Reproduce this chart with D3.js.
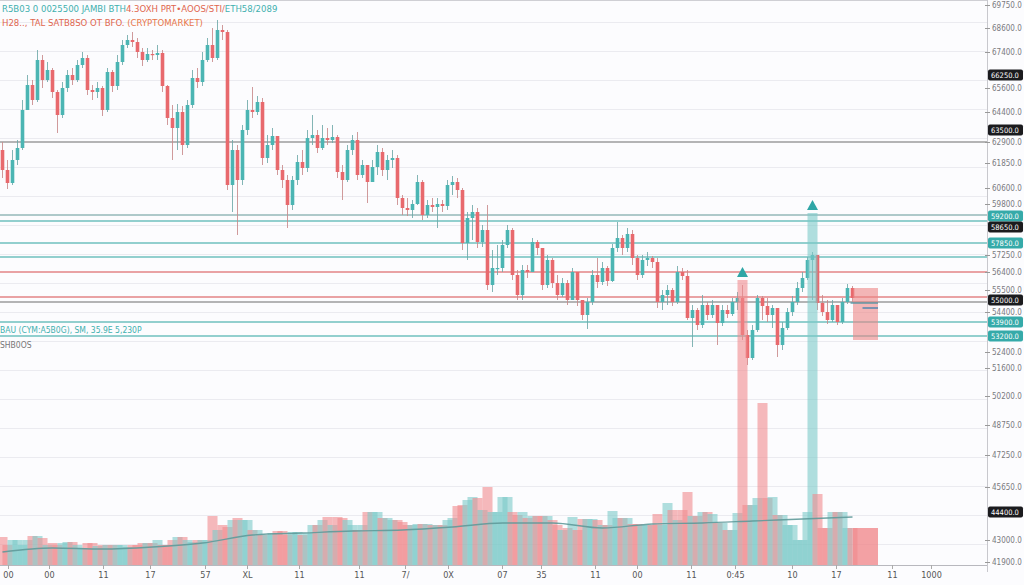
<!DOCTYPE html>
<html><head><meta charset="utf-8">
<script src="https://cdn.jsdelivr.net/npm/d3@7"></script>
<style>
html,body{margin:0;padding:0;background:#fcfcfe;}
svg{display:block;}
text{font-family:"DejaVu Sans Condensed","Liberation Sans Narrow","Roboto",sans-serif;}
</style></head><body>
<svg id="c" width="1024" height="585"></svg>
<script>
// ---------- DATA ----------
const firstOpen = 62500;
const closes = [
61500,60850,62000,62600,64500,65750,65000,67000,66000,66500,
65400,64250,65600,66250,66000,66750,67100,65500,65400,65600,
64500,66400,65700,66900,67750,68000,67900,67400,67000,67300,
67250,67350,65700,64100,63600,64400,62750,64750,66100,65900,
67000,67750,67100,68500,68400,60750,62500,61000,63500,64500,
64400,64900,62100,62750,63200,61500,61000,59750,61000,61900,
61600,63100,63250,62600,63100,63000,63150,61400,61000,62500,
63000,61250,61750,60900,61650,62400,61500,62000,62100,60100,
59600,59500,59800,60900,59250,59750,59650,59800,59700,60750,
60900,60500,57850,59100,59400,57900,58500,55750,56600,56600,
57750,58500,56250,55250,56500,56400,57900,57600,55750,57000,
55850,55250,55850,55000,56400,55000,54250,54900,56250,55900,
56600,55950,57600,58100,57600,58300,57100,56250,57000,57100,
56900,54900,55250,55500,54900,56400,56200,54100,54500,53750,
54750,54250,54750,53850,54500,54300,54900,55100,53250,52100,
53500,55100,54700,54250,54600,52750,53600,54400,54900,55600,
56100,57000,57250,54850,54400,54000,54750,53900,54900,55600,
55100];
const highs = [
62900,62000,62500,63000,65000,66250,66000,67500,67250,66900,
66600,65500,65900,66500,66600,67000,67400,67250,65750,65900,
65700,66600,66500,67250,68000,68250,68400,68100,67600,67600,
67500,67750,67500,65750,64750,64800,64700,65000,66500,66600,
67400,68100,68600,69000,68750,68500,63000,62750,63750,65000,
65650,65200,65100,63250,63600,63100,61750,61250,61200,62250,
62500,63500,64250,63500,63750,63600,63750,63250,61750,62750,
63250,63400,62000,61750,62000,62750,62600,62250,62500,62250,
60250,60100,60000,61250,61000,60000,60100,60100,60000,61000,
61200,61100,60600,59400,59750,59600,58750,59750,57500,57750,
58000,58750,58600,56500,56750,56750,58100,58000,57500,57250,
57100,56250,56100,56000,56600,55850,55000,55100,56500,57100,
56900,56700,57800,58900,58250,58600,58500,57250,57250,57400,
57200,57100,55500,55750,55600,56700,56600,56500,54750,54600,
55250,54900,55000,54750,54750,54750,55100,55400,55750,53500,
53750,55250,55200,55100,54750,54500,53900,54600,55200,55900,
56400,57150,57400,55500,55250,55000,55000,54600,55100,55800,
55700];
const lows = [
61100,60550,60750,61750,62500,64500,64750,64900,65600,65900,
65100,63350,64100,65400,65750,65900,66600,65250,65000,65100,
64200,64400,65400,65500,66750,67600,67650,67100,66700,66900,
67000,67000,65400,63750,62000,62500,62250,62600,64600,65600,
65700,66900,66900,67000,68000,60500,59400,58250,60750,63250,
64100,64250,61750,61850,62500,61250,60600,58600,59500,60750,
61250,61400,62750,62350,62500,62750,62850,61100,60000,60900,
62250,61000,61100,59850,61000,61250,61200,61000,61600,59750,
59250,59200,59100,59750,59000,59100,59400,58600,59400,59500,
60250,60100,57500,57000,58000,57600,57650,55500,55400,56250,
56400,57600,56000,55000,55000,56100,56400,57250,55500,55600,
55600,55000,55150,54750,55000,54700,54000,53550,54750,55600,
55750,55700,55900,57400,57250,57400,56750,56000,56100,56700,
56600,54600,54500,54750,54700,54800,56000,54000,52650,53500,
53600,54000,54100,52750,53700,54100,54200,54500,53000,51750,
52000,53400,54000,53900,53600,52150,52500,53500,54200,54750,
55400,56000,55000,54500,54200,53800,53900,53750,53800,54800,
54900];
const volumes = [
2800,2000,2500,2500,2000,2500,2900,2900,2700,2000,
2200,2000,2200,2300,2300,2000,1700,2200,2200,1900,
2000,2000,2000,2000,2000,1800,2000,2000,2200,2200,
2200,2500,2000,2000,2500,2800,2800,2500,2300,2500,
2500,2500,4900,3500,4000,3800,4500,4700,4500,4500,
3500,3500,3000,3000,3200,3400,3400,3000,3300,3300,
3000,3200,4000,4000,4500,4800,4000,4800,4700,4500,
4000,3500,4000,5300,5300,5300,4700,4700,4500,4500,
4300,4000,4000,4100,4100,4100,4000,4000,4000,4500,
4700,5900,6000,6500,6800,6700,5500,7800,5300,5300,
6800,6800,5300,5000,5300,4700,4900,4900,4900,4900,
4500,4000,3500,3700,4800,3500,4600,4600,4600,4500,
4000,4000,5400,4700,4700,4700,4100,4100,4000,4000,
4000,5100,4000,6200,5500,4500,5500,7300,4900,4900,
5300,5300,5100,4200,4200,3500,3500,5200,28500,6000,
6000,6700,16200,6700,6800,5000,5000,4000,4000,2500,
2500,5300,35200,7100,3700,3700,5300,5300,5300,3700,
3700];
const pendingVolume = 3700;
const volMAIdx = [0,10,20,30,40,50,60,70,80,90,100,110,120,130,140,150,160,170];
const volMA = [1300,1700,1600,1800,2200,3000,3200,3400,3500,3800,4200,4200,3700,4100,4200,4400,4600,4800];
const spikeIdx = [148,162];
const gridPrices = [68900,67450,66000,64550,63100,61650,60200,58750,57300,55850,54400,52950,51500,50050,48600,47150,45700,44250,42800];
const axisPrices = [69750,68600,67400,65600,64400,62900,61850,60600,59800,57250,56400,55500,54400,52400,51600,50200,48750,47250,45650,43000,41900];
const levelPrices = [62900,59250,58950,57850,57150,56400,55150,54900,53900,53200];
const levelKinds  = ["gray","grayteal","teal","teal","teal","red","red","gray","teal","teal"];
const tagPrices = [66250,63500,59200,58650,57850,55000,53900,53200,44400];
const tagKinds  = ["k","k","t","k","t","k","t","t","k"];
const dateTickIdx = [1.1,9.3,20.1,29.5,40.5,48.9,59.3,71.3,80.5,89.1,99.9,107.7,118.5,126.9,137.7,146.5,157.9,166.7,177.9,185.7];
const dateTickLabels = ["00","00","11","17","57","XL","11","11","7/","0X","07","35","11","00","11","0:45","10","17","11","1000"];
const positionBox = [170.1,175.1,55600,53000];
const positionLines = [54850,54600];

// ---------- CHART ----------
const svg = d3.select("#c");
const axisX = 987;
const x = d3.scaleLinear().domain([-0.5,196.5]).range([0,985]);
const y = d3.scaleLinear().domain([41750,70000]).range([565,0]);
const vy = d3.scaleLinear().domain([0,56500]).range([565,0]);
const UP="#4bb5b3", DN="#e8696d";
const VUP="#7ccac8", VDN="#f08a8d";

svg.append("rect").attr("width",1024).attr("height",585).attr("fill","#fcfcfe");

// grid
svg.append("g").selectAll("line").data(gridPrices).join("line")
  .attr("x1",0).attr("x2",axisX)
  .attr("y1",d=>Math.round(y(d))+0.5).attr("y2",d=>Math.round(y(d))+0.5)
  .attr("stroke","#ebebf0").attr("stroke-width",1);

// top border
svg.append("line").attr("x1",0).attr("x2",axisX).attr("y1",0.5).attr("y2",0.5).attr("stroke","#cfcfd4");

// level lines
const lvlStyle = {gray:["#9c9c9c",1.3],grayteal:["#94b9b9",1.5],teal:["#6fc0be",1.6],red:["#e38586",1.4]};
svg.append("g").selectAll("line").data(levelPrices).join("line")
  .attr("x1",0).attr("x2",axisX)
  .attr("y1",d=>y(d)).attr("y2",d=>y(d))
  .attr("stroke",(d,i)=>lvlStyle[levelKinds[i]][0])
  .attr("stroke-width",(d,i)=>lvlStyle[levelKinds[i]][1]);

// candles
const candles = closes.map((c,i)=>({i,o:i===0?firstOpen:closes[i-1],c,h:highs[i],l:lows[i],v:volumes[i]}));
const cg = svg.append("g");
cg.selectAll("line").data(candles).join("line")
  .attr("x1",d=>x(d.i)).attr("x2",d=>x(d.i))
  .attr("y1",d=>y(d.h)).attr("y2",d=>y(d.l))
  .attr("stroke",d=>d.c>=d.o?"#6fa9a9":"#c98a8a").attr("stroke-width",1).attr("opacity",0.85);
cg.selectAll("rect").data(candles).join("rect")
  .attr("x",d=>x(d.i)-1.8).attr("width",3.6)
  .attr("y",d=>Math.min(y(d.o),y(d.c)))
  .attr("height",d=>Math.max(1.2,Math.abs(y(d.o)-y(d.c))))
  .attr("fill",d=>d.c>=d.o?UP:DN);

// position box
svg.append("rect")
  .attr("x",x(positionBox[0])).attr("width",x(positionBox[1])-x(positionBox[0]))
  .attr("y",y(positionBox[2])).attr("height",y(positionBox[3])-y(positionBox[2]))
  .attr("fill","#ec8686").attr("opacity",0.6);
svg.append("line").attr("x1",x(169.6)).attr("x2",x(175.1)).attr("y1",y(positionLines[0])).attr("y2",y(positionLines[0]))
  .attr("stroke","#4d93a3").attr("stroke-width",1.3);
svg.append("line").attr("x1",x(172)).attr("x2",x(175.1)).attr("y1",y(positionLines[1])).attr("y2",y(positionLines[1]))
  .attr("stroke","#3c7fae").attr("stroke-width",1.3);

// volume
const vg = svg.append("g");
vg.selectAll("rect").data(candles).join("rect")
  .attr("x",d=>x(d.i)-5).attr("width",10)
  .attr("y",d=>vy(d.v)).attr("height",d=>vy(0)-vy(d.v))
  .attr("fill",d=>d.c>=d.o?VUP:VDN).attr("opacity",0.6);
vg.append("rect").attr("x",x(170.1)).attr("width",x(175.1)-x(170.1))
  .attr("y",vy(pendingVolume)).attr("height",vy(0)-vy(pendingVolume))
  .attr("fill",VDN).attr("opacity",0.8);

// volume MA
svg.append("path").datum(volMA)
  .attr("d",d3.line().x((d,i)=>x(volMAIdx[i])).y(d=>vy(d)).curve(d3.curveMonotoneX))
  .attr("fill","none").attr("stroke","#5f9a9a").attr("stroke-width",1.3).attr("opacity",0.9);

// spike arrows
svg.append("g").selectAll("path").data(spikeIdx).join("path")
  .attr("d",i=>{const cx=x(i),ty=vy(volumes[i])-3;return `M${cx-5.5},${ty} L${cx},${ty-10} L${cx+5.5},${ty} Z`;})
  .attr("fill","#2fa6a6");

// right axis
const ra = svg.append("g").attr("transform",`translate(${axisX},0)`)
  .call(d3.axisRight(y).tickValues(axisPrices).tickSize(3).tickPadding(2).tickFormat(d3.format(".1f")));
ra.select(".domain").attr("stroke","#c8c8cd").attr("d","M0.5,0V572");
ra.selectAll(".tick line").attr("stroke","#999").attr("x1",-2);
ra.selectAll(".tick text").attr("fill","#7a7a80").attr("font-size",8);

// tags
const tg = svg.append("g").selectAll("g").data(tagPrices).join("g")
  .attr("transform",d=>`translate(${axisX+1},${y(d)})`);
tg.append("rect").attr("x",0).attr("y",-5.5).attr("width",35).attr("height",11).attr("rx",2)
  .attr("fill",(d,i)=>tagKinds[i]==="k"?"#1b1b1e":"#35aaa9");
tg.append("text").attr("x",3).attr("y",3).attr("font-size",7.5).attr("fill","#fff")
  .text(d=>d3.format(".1f")(d));

// bottom axis
const ba = svg.append("g").attr("transform","translate(0,565)")
  .call(d3.axisBottom(x).tickValues(dateTickIdx).tickSize(4).tickPadding(3).tickFormat((d,i)=>dateTickLabels[i]));
ba.select(".domain").attr("stroke","#b8b8be").attr("d","M0,0.5H987");
ba.selectAll(".tick line").attr("stroke","#aaa");
ba.selectAll(".tick text").attr("fill","#555").attr("font-size",9);

// header texts
const t1 = svg.append("text").attr("x",2).attr("y",12).attr("font-size",9.5);
t1.append("tspan").attr("fill","#3fb0ae").text("R5B03 0 0025500 JAMBI BTH");
t1.append("tspan").attr("fill","#e0664f").text("4.3OXH PRT•AOOS/STI/");
t1.append("tspan").attr("fill","#3fb0ae").text("ETH58/2089");
const t2 = svg.append("text").attr("x",2).attr("y",26).attr("font-size",9.5);
t2.append("tspan").attr("fill","#e0664f").text("H28.., TAL SATB8SO OT BFO. ");
t2.append("tspan").attr("fill","#e8764a").text("(CRYPTOMARKET)");
svg.append("text").attr("x",0).attr("y",333).attr("font-size",8.5).attr("fill","#3fb0ae")
  .text("BAU (CYM:A5B0G), SM, 35.9E 5,230P");
svg.append("text").attr("x",0).attr("y",348).attr("font-size",8.5).attr("fill","#777")
  .text("SHB0OS");
</script>
</body></html>
